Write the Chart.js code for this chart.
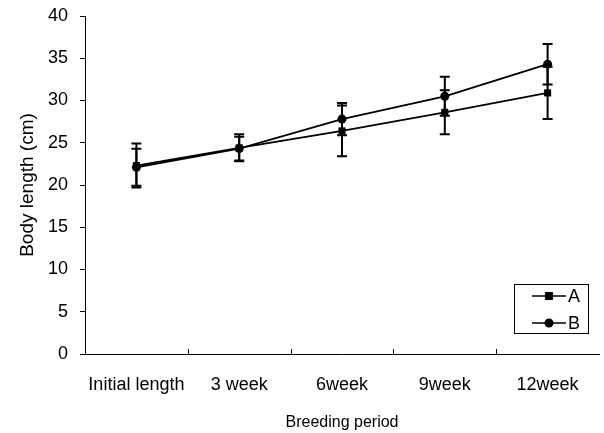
<!DOCTYPE html>
<html>
<head>
<meta charset="utf-8">
<script src="https://cdn.jsdelivr.net/npm/chart.js@4"></script>
<style>
    html, body { margin: 0; padding: 0; background: #fff; }
    #wrap { width: 604px; height: 433px; position: relative; }
</style>
</head>
<body>
<div id="wrap"><canvas id="lengthChart"></canvas></div>
<script>
const categories = ['Initial length', '3 week', '6week', '9week', '12week'];
const seriesA = [22.3, 24.4, 26.4, 28.6, 30.9];
const seriesB = [22.1, 24.3, 27.8, 30.5, 34.3];
const errorA = [2.6, 1.6, 3.0, 2.6, 3.1];
const errorB = [2.2, 1.4, 1.9, 2.3, 2.4];
const seriesLabels = ['A', 'B'];

const fontFamily = '"Liberation Sans", Arial, sans-serif';

// error bars drawn through the y scale
const errorBarsPlugin = {
    id: 'errorBars',
    beforeDatasetsDraw(chart) {
        const { ctx, scales: { x, y } } = chart;
        const errs = [errorA, errorB];
        ctx.save();
        ctx.strokeStyle = '#000';
        ctx.lineWidth = 2;
        chart.data.datasets.forEach((ds, di) => {
            ds.data.forEach((v, i) => {
                const px = x.getPixelForValue(i);
                const top = y.getPixelForValue(v + errs[di][i]);
                const bot = y.getPixelForValue(v - errs[di][i]);
                ctx.beginPath();
                ctx.moveTo(px, top); ctx.lineTo(px, bot);
                ctx.moveTo(px - 5, top); ctx.lineTo(px + 5, top);
                ctx.moveTo(px - 5, bot); ctx.lineTo(px + 5, bot);
                ctx.stroke();
            });
        });
        ctx.restore();
    }
};

// inward x ticks at category boundaries + boxed legend
const axisExtras = {
    id: 'axisExtras',
    afterDraw(chart) {
        const { ctx, chartArea, scales: { x } } = chart;
        ctx.save();
        ctx.strokeStyle = '#000';
        ctx.lineWidth = 1;
        for (let i = 0; i < categories.length - 1; i++) {
            const bx = Math.round((x.getPixelForValue(i) + x.getPixelForValue(i + 1)) / 2) + 0.5;
            ctx.beginPath();
            ctx.moveTo(bx, chartArea.bottom);
            ctx.lineTo(bx, chartArea.bottom - 5);
            ctx.stroke();
        }

        // legend
        const lx = 514, ly = 284, lw = 74, lh = 49;
        ctx.strokeRect(lx + 0.5, ly + 0.5, lw, lh);
        ctx.font = '18px ' + fontFamily;
        ctx.fillStyle = '#000';
        ctx.textBaseline = 'middle';
        chart.data.datasets.forEach((ds, i) => {
            const cy = ly + 12 + i * 27;
            ctx.lineWidth = 1.5;
            ctx.beginPath();
            ctx.moveTo(532, cy); ctx.lineTo(566, cy);
            ctx.stroke();
            if (ds.pointStyle === 'rect') {
                ctx.fillRect(545, cy - 4, 8, 8);
            } else {
                ctx.beginPath();
                ctx.arc(549, cy, 4.5, 0, Math.PI * 2);
                ctx.fill();
            }
            ctx.fillText(ds.label, 568, cy + 1);
        });
        ctx.restore();
    }
};

new Chart(document.getElementById('lengthChart'), {
    type: 'line',
    data: {
        labels: categories,
        datasets: [
            {
                label: seriesLabels[0],
                data: seriesA,
                borderColor: '#000',
                backgroundColor: '#000',
                borderWidth: 1.8,
                pointStyle: 'rect',
                pointRadius: 5,
                pointBackgroundColor: '#000',
                pointBorderWidth: 0,
                tension: 0
            },
            {
                label: seriesLabels[1],
                data: seriesB,
                borderColor: '#000',
                backgroundColor: '#000',
                borderWidth: 1.8,
                pointStyle: 'circle',
                pointRadius: 4.5,
                pointBackgroundColor: '#000',
                pointBorderWidth: 0,
                tension: 0
            }
        ]
    },
    options: {
        responsive: true,
        maintainAspectRatio: false,
        animation: false,
        layout: { padding: { top: 16, right: 3, left: 0, bottom: 0 } },
        plugins: {
            legend: { display: false },
            tooltip: { enabled: false }
        },
        scales: {
            x: {
                offset: true,
                grid: { display: false },
                border: { display: true, color: '#000', width: 1 },
                ticks: {
                    color: '#000',
                    padding: 12,
                    maxRotation: 0,
                    autoSkip: false,
                    font: { family: fontFamily, size: 18 }
                },
                title: {
                    display: true,
                    text: 'Breeding period',
                    color: '#000',
                    font: { family: fontFamily, size: 16 },
                    padding: { top: 0, bottom: 1 }
                },
                afterFit: s => { s.height = 79; }
            },
            y: {
                min: 0,
                max: 40,
                ticks: {
                    stepSize: 5,
                    color: '#000',
                    padding: 12,
                    font: { family: fontFamily, size: 18 }
                },
                grid: {
                    drawOnChartArea: false,
                    drawTicks: true,
                    tickLength: 5,
                    color: '#000'
                },
                border: { display: true, color: '#000', width: 1 },
                title: {
                    display: true,
                    text: 'Body length (cm)',
                    color: '#000',
                    font: { family: fontFamily, size: 19 },
                    padding: { top: 16, bottom: 0 }
                },
                afterFit: s => {
                    s.width = 85;
                    s.paddingTop = 0;
                    s.paddingBottom = 0;
                }
            }
        }
    },
    plugins: [errorBarsPlugin, axisExtras]
});
</script>
</body>
</html>
